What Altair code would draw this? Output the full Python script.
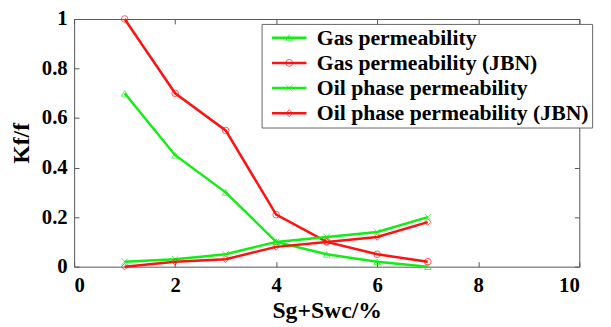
import altair as alt
import pandas as pd

x_vals = [1, 2, 3, 4, 5, 6, 7]
series_names = ["Gas permeability", "Gas permeability (JBN)",
                "Oil phase permeability", "Oil phase permeability (JBN)"]
gas_perm = [0.70, 0.45, 0.30, 0.10, 0.05, 0.02, 0.00]
gas_perm_jbn = [1.00, 0.70, 0.55, 0.21, 0.10, 0.05, 0.02]
oil_perm = [0.02, 0.03, 0.05, 0.10, 0.12, 0.14, 0.20]
oil_perm_jbn = [0.00, 0.02, 0.03, 0.08, 0.10, 0.12, 0.18]
x_ticks = [0, 2, 4, 6, 8, 10]
y_ticks = [0, 0.2, 0.4, 0.6, 0.8, 1]

colors = ["#11ee11", "#ff1111", "#11ee11", "#ff1111"]
shapes = ["triangle-up", "circle", "M-1,-1L1,1M-1,1L1,-1", "diamond"]

rows = []
for name, vals in zip(series_names, [gas_perm, gas_perm_jbn, oil_perm, oil_perm_jbn]):
    for xv, yv in zip(x_vals, vals):
        rows.append({"x": xv, "y": yv, "series": name})
df = pd.DataFrame(rows)

FONT = "Liberation Serif"
xscale = alt.Scale(domain=[0, 10], nice=False)
yscale = alt.Scale(domain=[0, 1], nice=False)
cscale = alt.Scale(domain=series_names, range=colors)
sscale = alt.Scale(domain=series_names, range=shapes)

axis_common = dict(domain=False, tickSize=5, offset=-5, tickColor="#555",
                   labelFontWeight="bold", labelFontSize=21,
                   labelColor="black", titleFontWeight="bold",
                   titleFontSize=24, titleColor="black", grid=False)

legend_common = dict(orient="none", legendY=5, title=None,
                     labelFontWeight="bold", labelFontSize=22, rowPadding=3.5,
                     padding=3, labelLimit=600, symbolSize=49)

line_legend = alt.Legend(legendX=190, symbolType="M-1,0H9", symbolStrokeWidth=2.5,
                         symbolFillColor="transparent", labelOffset=31,
                         labelColor="black", fillColor="white", strokeColor="#666",
                         **legend_common)
pt_legend = alt.Legend(legendX=204, labelExpr="''", labelOffset=31,
                       symbolStrokeWidth=1, **legend_common)

lines = alt.Chart(df).mark_line(strokeWidth=2.5).encode(
    x=alt.X("x:Q", scale=xscale,
            axis=alt.Axis(values=x_ticks, title="Sg+Swc/%", labelPadding=8,
                          titlePadding=4, orient="bottom", **axis_common)),
    y=alt.Y("y:Q", scale=yscale,
            axis=alt.Axis(values=y_ticks, format="~g", title="Kf/f", labelPadding=7,
                          titlePadding=8, orient="left", **axis_common)),
    color=alt.Color("series:N", scale=cscale, legend=line_legend),
    detail="series:N",
    order="x:Q",
)

points = alt.Chart(df).mark_point(filled=False, size=45, strokeWidth=1).encode(
    x=alt.X("x:Q", scale=xscale,
            axis=alt.Axis(values=x_ticks, labels=False, title=None, orient="top",
                          **axis_common)),
    y=alt.Y("y:Q", scale=yscale,
            axis=alt.Axis(values=y_ticks, labels=False, title=None, orient="right",
                          **axis_common)),
    color=alt.Color("series:N", scale=cscale, legend=pt_legend),
    shape=alt.Shape("series:N", scale=sscale, legend=pt_legend),
)

chart = alt.layer(lines, points).resolve_axis(
    x="independent", y="independent"
).resolve_legend(color="independent", shape="independent").properties(
    width=512, height=251,
    autosize=alt.AutoSizeParams(type="none"),
    padding={"left": 67, "top": 9, "right": 24, "bottom": 59},
).configure(font=FONT).configure_axis(labelFont=FONT, titleFont=FONT).configure_legend(
    labelFont=FONT, titleFont=FONT
).configure_view(stroke="#555", strokeWidth=1)

chart.save("out.html", embed_options={"renderer": "svg", "actions": False})
